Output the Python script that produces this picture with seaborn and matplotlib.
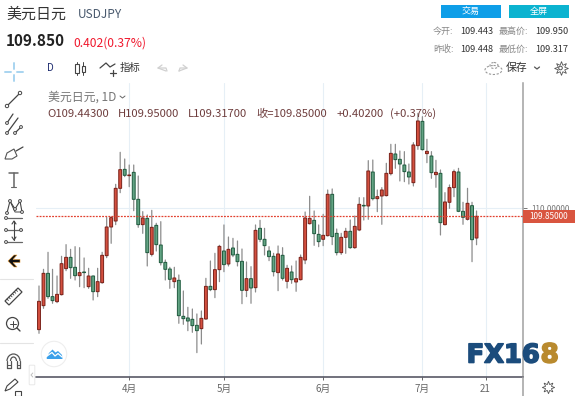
import numpy as np
import pandas as pd
import matplotlib
matplotlib.use('Agg')
import matplotlib.pyplot as plt
import matplotlib.patches as mp
import matplotlib.patheffects as pe
import seaborn as sns

opens = [107.725,108.175,108.781,108.344,108.25,108.381,108.869,109.081,108.894,108.737,108.806,108.531,108.731,108.437,
         108.606,109.112,109.65,109.762,110.375,110.731,110.612,110.675,110.169,109.694,109.812,109.137,109.681,109.312,
         108.987,108.862,108.625,108.65,107.975,107.944,107.919,107.806,107.744,107.925,108.537,108.475,108.85,109.2,
         108.956,109.256,109.137,109.006,108.462,108.681,108.512,109.625,109.419,109.2,109.1,108.794,109.119,108.631,
         108.806,108.619,108.662,109.031,109.712,109.775,109.512,109.419,109.487,110.263,109.531,109.169,109.456,109.569,
         109.262,109.594,110.056,110.044,110.681,110.181,110.231,110.238,110.65,111.019,110.919,110.812,110.681,110.481,
         111.175,111.631,111.025,110.981,110.631,110.656,109.694,110.113,110.388,110.681,109.944,109.794,110.05,109.443]
highs = [108.544,108.856,109.175,108.856,108.731,109.1,109.319,109.231,109.281,109.262,109.069,108.875,108.731,108.875,
         109.175,109.831,109.844,110.45,111.05,110.925,110.812,110.812,110.606,109.938,109.875,109.962,109.719,109.75,
         109.031,108.894,108.894,108.75,108.45,108.144,108.112,108.019,108.075,108.687,109.012,109.156,109.306,109.688,
         109.462,109.437,109.387,109.237,108.994,108.906,109.688,109.775,109.625,109.281,109.156,109.294,109.262,108.931,
         108.919,109.012,109.125,109.931,110.225,109.95,109.688,109.887,110.344,110.363,109.612,109.531,109.625,109.781,
         109.856,110.2,110.2,110.894,110.906,110.344,110.388,110.844,111.2,111.2,111.075,111.063,110.831,111.231,
         111.781,111.719,111.294,111.063,110.9,110.719,110.294,110.438,110.719,110.75,110.113,110.375,110.113,109.95]
lows = [107.656,108.125,108.312,108.219,108.231,108.375,108.831,108.687,108.656,108.531,108.512,108.5,108.281,108.344,
        108.594,109.075,109.344,109.694,110.294,110.594,110.406,109.956,109.644,109.531,108.919,109.106,109.2,108.937,
        108.656,108.5,108.512,107.844,107.825,107.706,107.675,107.294,107.456,107.919,108.456,108.325,108.625,108.812,
        108.919,109.094,108.919,108.212,108.344,108.219,108.431,109.375,109.125,109.019,108.731,108.456,108.656,108.506,
        108.594,108.444,108.656,108.962,109.706,109.306,109.281,109.3,109.481,109.319,109.125,109.137,109.156,109.25,
        109.25,109.581,109.781,109.794,110.156,109.938,109.7,110.231,110.625,110.75,110.513,110.5,110.456,110.419,
        111.106,111.094,110.856,110.563,110.394,109.5,109.688,110.0,110.219,109.938,109.7,109.781,109.0,109.317]
closes = [108.256,108.781,108.344,108.269,108.387,108.962,109.081,108.887,108.737,108.794,108.794,108.731,108.437,108.625,
          109.119,109.65,109.825,110.375,110.725,110.619,110.625,110.169,109.694,109.819,109.169,109.644,109.319,108.981,
          108.856,108.669,108.694,107.987,107.931,107.887,107.8,107.706,107.937,108.537,108.475,108.85,109.287,108.944,
          109.231,109.125,109.0,108.462,108.681,108.506,109.587,109.419,109.3,109.094,108.812,109.144,108.687,108.875,
          108.662,108.681,109.081,109.819,109.812,109.525,109.375,109.494,110.263,109.469,109.169,109.456,109.569,109.262,
          109.662,110.075,110.044,110.7,110.181,110.219,110.344,110.656,111.031,110.913,110.831,110.688,110.588,111.188,
          111.638,111.1,111.069,110.669,110.675,109.731,110.119,110.388,110.688,109.944,109.831,110.094,109.412,109.85]
month_days = [20, 41, 63, 85, 99]
month_labels = ['4月', '5月', '6月', '7月', '21']
last_price = 109.85
grid_price = 110.0

sns.set_theme(style="white")
plt.rcParams['font.family'] = ['Noto Sans CJK SC', 'DejaVu Sans']

df = pd.DataFrame({'day': np.arange(len(opens)), 'open': opens, 'high': highs, 'low': lows, 'close': closes})
df['top'] = df[['open', 'close']].max(axis=1)
df['bot'] = df[['open', 'close']].min(axis=1)
df['body'] = (df['top'] - df['bot']).clip(lower=0.012)
up = df[df['close'] >= df['open']]
down = df[df['close'] < df['open']]

wicks = pd.concat([df[['day', 'high']].rename(columns={'high': 'price'}),
                   df[['day', 'low']].rename(columns={'low': 'price'})])

fig = plt.figure(figsize=(5.75, 3.96), dpi=100)
ax = fig.add_axes([36/575, 1-377/396, 487/575, 294/396])

sns.lineplot(data=wicks, x='day', y='price', units='day', estimator=None, sort=False,
             color='#8c8c8c', linewidth=0.9, ax=ax, zorder=2)
for line in ax.lines:
    line.set_snap(False)

# red goes up here, green goes down
sns.barplot(data=up, x='day', y='body', bottom=up['bot'].values, native_scale=True, errorbar=None,
            width=0.64, color='#d4503f', saturation=1, edgecolor='#7a2018', linewidth=0.7, ax=ax, zorder=3)
sns.barplot(data=down, x='day', y='body', bottom=down['bot'].values, native_scale=True, errorbar=None,
            width=0.64, color='#62a383', saturation=1, edgecolor='#1f5a3e', linewidth=0.7, ax=ax, zorder=3)
for bar in ax.patches:
    bar.set_snap(False)

ax.axhline(last_price, color='#e2402f', linewidth=0.9, linestyle=(0, (1.5, 1)), zorder=4)

ax.set_xlim(-0.665, 107.3)
ax.set_ylim(106.837, 112.35)
ax.set_xticks(month_days)
ax.set_xticklabels(month_labels)
ax.set_yticks([grid_price])
ax.set_yticklabels(['110.00000'])
ax.yaxis.tick_right()
ax.set_xlabel('')
ax.set_ylabel('')
ax.grid(True, color='#e6eff6', linewidth=0.8)
ax.set_axisbelow(True)
ax.tick_params(axis='x', colors='#666666', labelsize=7, length=2, width=0.7, pad=3, bottom=True)
ax.tick_params(axis='y', colors='#777777', labelsize=5.9, length=3, width=0.7, pad=3, right=True)
for s in ['top', 'left']:
    ax.spines[s].set_visible(False)
ax.spines['bottom'].set_color('#4a4a58')
ax.spines['bottom'].set_linewidth(1.1)
ax.spines['right'].set_color('#a0a0a0')
ax.spines['right'].set_linewidth(1.1)

# page furniture in pixel coordinates
ov = fig.add_axes([0, 0, 1, 1], zorder=5)
ov.set_xlim(0, 575)
ov.set_ylim(396, 0)
ov.axis('off')
ov.patch.set_alpha(0)


def txt(x, y, s, size=7.5, color='#333333', ha='left', **kw):
    ov.text(x, y, s, fontsize=size, color=color, ha=ha, va='center', **kw)


def pl(xs, ys, color='#444444', lw=0.9, **kw):
    ov.plot(xs, ys, color=color, lw=lw, solid_capstyle='round', **kw)


def dot(x, y, r=1.7, ec='#444444'):
    ov.add_patch(mp.Circle((x, y), r, fc='white', ec=ec, lw=0.7, zorder=6))


pl([523, 523], [377, 396], color='#a0a0a0', lw=1.1)

# header
txt(6, 15, '美元日元', size=10.8, color='#333333')
txt(78, 15, 'USDJPY', size=8.6, color='#4a5a6e')
txt(6, 41, '109.850', size=11, color='#222222', weight='bold')
txt(73, 43, '0.402(0.37%)', size=8.7, color='#f0182d')

ov.add_patch(mp.Rectangle((441, 5), 60, 13, fc='#0e9ee8', ec='none'))
ov.add_patch(mp.Rectangle((509, 5), 60, 13, fc='#0bb3d0', ec='none'))
txt(471, 11.5, '交易', size=6.5, color='white', ha='center')
txt(539, 11.5, '全屏', size=6.5, color='white', ha='center')
txt(433, 31, '今开:', size=6.5, color='#888888')
txt(460, 31, '109.443', size=6.6, color='#333333')
txt(499, 31, '最高价:', size=6.5, color='#888888')
txt(535, 31, '109.950', size=6.6, color='#333333')
txt(433, 49, '昨收:', size=6.5, color='#888888')
txt(460, 49, '109.448', size=6.6, color='#333333')
txt(499, 49, '最低价:', size=6.5, color='#888888')
txt(535, 49, '109.317', size=6.6, color='#333333')

# toolbar
txt(47, 68, 'D', size=7, color='#1c2a6e')
pl([77, 77], [62, 75], lw=0.7)
pl([83, 83], [62, 75], lw=0.7)
ov.add_patch(mp.Rectangle((75, 64), 3.6, 9, fc='white', ec='#444444', lw=0.8, zorder=6))
ov.add_patch(mp.Rectangle((81.5, 65.5), 3, 6, fc='white', ec='#444444', lw=0.8, zorder=6))
pl([100, 106, 110, 115], [68, 63, 67, 64])
pl([113, 113], [70, 76])
pl([110, 116], [73, 73])
txt(120, 68, '指标', size=7.5, color='#333333')
pl([166, 158, 162], [71, 68, 65], color='#d0d0d0')
pl([158, 166, 167], [68, 68, 71], color='#d0d0d0')
pl([179, 187, 183], [71, 68, 65], color='#d0d0d0')
pl([187, 180, 179], [68, 68, 71], color='#d0d0d0')
ov.add_patch(mp.Ellipse((493.5, 70), 17, 9, fc='none', ec='#999999', lw=0.8, ls=(0, (2, 1.5))))
ov.add_patch(mp.Ellipse((494, 65.5), 8, 6, fc='none', ec='#999999', lw=0.8, ls=(0, (2, 1.5))))
txt(506, 68, '保存', size=7.8, color='#333333')
pl([534.5, 537, 539.5], [67, 69, 67], color='#555555')
ov.plot(560.5, 68, marker=(8, 1, 0), ms=10, mfc='white', mec='#555555', mew=0.6)
ov.add_patch(mp.Circle((560.5, 68), 1.8, fc='white', ec='#555555', lw=0.7, zorder=6))
ov.plot(548, 387, marker=(8, 1, 0), ms=9, mfc='white', mec='#555555', mew=0.6)

# legend over the chart
legend_color = '#6e3d3d'
txt(48, 97, '美元日元, 1D', size=8.6, color='#777777')
pl([120, 122.5, 125], [96, 98, 96], color='#666666', lw=0.7)
txt(47, 114, 'O109.44300', size=8.1, color=legend_color)
txt(118, 114, 'H109.95000', size=8.1, color=legend_color)
txt(188, 114, 'L109.31700', size=8.1, color=legend_color)
txt(256, 114, '收=109.85000', size=8.1, color=legend_color)
txt(337, 114, '+0.40200', size=8.1, color=legend_color)
txt(390, 114, '(+0.37%)', size=8.1, color=legend_color)

# price tag
ov.add_patch(mp.Rectangle((523, 210), 52, 12.7, fc='#d9553f', ec='none', zorder=7))
ov.text(549, 216.2, '109.85000', fontsize=5.9, color='white', ha='center', va='center', zorder=8, weight='medium')

# left tool rail
pl([5, 11], [72, 72], color='#a8d4f0', lw=1.4)
pl([17, 23], [72, 72], color='#a8d4f0', lw=1.4)
pl([14, 14], [63, 69], color='#a8d4f0', lw=1.4)
pl([14, 14], [75, 81], color='#a8d4f0', lw=1.4)
pl([7, 20], [106, 93])
dot(20, 93)
dot(7, 106)
pl([7, 13], [123, 114])
pl([7, 18], [133, 118])
pl([15, 21], [133, 127])
dot(7, 123, 1.4)
dot(7, 133, 1.4)
dot(15, 133, 1.4)
dot(21, 127, 1.4)
ov.add_patch(mp.Polygon([(5, 159), (7, 153), (14, 149), (17, 156), (12, 159)], fc='none', ec='#555555', lw=0.8))
pl([16, 23], [151, 147])
pl([9, 18], [173, 173], color='#666666', lw=1.1)
pl([13.5, 13.5], [173, 187], color='#666666', lw=1.1)
pl([11, 16], [187, 187], color='#666666', lw=0.8)
pl([7, 10, 15, 20, 22], [213, 201, 209, 201, 212], lw=0.8)
pl([10, 15, 22], [201, 212, 212], lw=0.7)
for px, py in [(7, 213), (10, 201), (15, 209), (20, 201), (22, 212)]:
    dot(px, py, 1.4)
for fy in [218, 230, 242]:
    pl([6, 22], [fy, fy], color='#666666', lw=0.9)
    dot(6, fy, 1.4)
pl([14, 14], [221, 240], color='#444444', lw=0.8)
pl([12, 14, 16], [224, 221, 224], lw=0.8)
pl([12, 14, 16], [237, 240, 237], lw=0.8)
dot(21, 230, 1.4)
ov.add_patch(mp.Polygon([(8, 261), (14, 255), (17, 255), (13, 259.5), (20, 259.5), (20, 262.5), (13, 262.5), (17, 267), (14, 267)],
                        fc='#111111', ec='#e8a040', lw=0.4))
pl([0, 33], [279, 279], color='#e4e4e4', lw=0.8)
pl([0, 33], [343, 343], color='#e4e4e4', lw=0.8)
ov.add_patch(mp.Polygon([(5, 301), (18, 288), (22, 292), (9, 305)], fc='white', ec='#444444', lw=0.9))
for t in np.linspace(0.15, 0.85, 6):
    bx, by = 5 + 13*t, 301 - 13*t
    pl([bx, bx + 1.5], [by, by + 1.5], lw=0.6)
ov.add_patch(mp.Circle((12.5, 323.5), 6, fc='none', ec='#444444', lw=0.9))
pl([17, 20], [328, 331], lw=1)
pl([9.5, 15.5], [323.5, 323.5], lw=0.7)
pl([12.5, 12.5], [320.5, 326.5], lw=0.7)
ov.add_patch(mp.Arc((13.5, 361), 13, 14, theta1=180, theta2=360, ec='#555555', lw=0.9))
ov.add_patch(mp.Arc((13.5, 361), 6, 8, theta1=180, theta2=360, ec='#555555', lw=0.9))
for mx in [7, 10.5, 16.5, 20]:
    pl([mx, mx], [361, 368], color='#555555', lw=0.9)
pl([7, 10.5], [365, 365], color='#555555', lw=0.7)
pl([16.5, 20], [365, 365], color='#555555', lw=0.7)
pl([7, 10.5], [368, 368], color='#555555', lw=0.9)
pl([16.5, 20], [368, 368], color='#555555', lw=0.9)
ov.add_patch(mp.Polygon([(5, 391), (7, 386), (15, 379), (18, 382), (10, 389)], fc='white', ec='#444444', lw=0.8))
ov.add_patch(mp.Rectangle((14.5, 391), 6, 4.5, fc='white', ec='#444444', lw=0.8))

# round logo and collapse handle
ov.add_patch(mp.Circle((54, 354), 12.7, fc='white', ec='#eeeeee', lw=0.8))
ov.add_patch(mp.Polygon([(46.5, 358), (49, 353), (52.5, 349.5), (55.5, 352.5), (58, 351), (62, 355), (62.5, 359), (47, 359)],
                        fc='#3aa0ea', ec='none'))
pl([47, 52, 55, 58, 62], [356, 352.5, 356, 353.5, 357], color='white', lw=0.9)
ov.add_patch(mp.FancyBboxPatch((30, 366), 4, 18, boxstyle='round,pad=0.8', fc='white', ec='#e8e8e8', lw=0.7))
pl([32.8, 31, 32.8], [373, 375, 377], color='#c0c0c0', lw=0.7)

# watermark
heavy = [pe.withStroke(linewidth=1.2, foreground='#1b4c7c')]
ov.text(540, 355.5, 'FX16', fontsize=18.5, color='#1b4c7c', weight='bold', ha='right', va='center',
        family='DejaVu Sans', path_effects=heavy)
ov.text(540.5, 355.5, '8', fontsize=19, color='#b98a2e', weight='bold', ha='left', va='center',
        family='DejaVu Sans', path_effects=[pe.withStroke(linewidth=1.2, foreground='#b98a2e')])

plt.savefig('out.png', dpi=100)
print("Saved out.png")
